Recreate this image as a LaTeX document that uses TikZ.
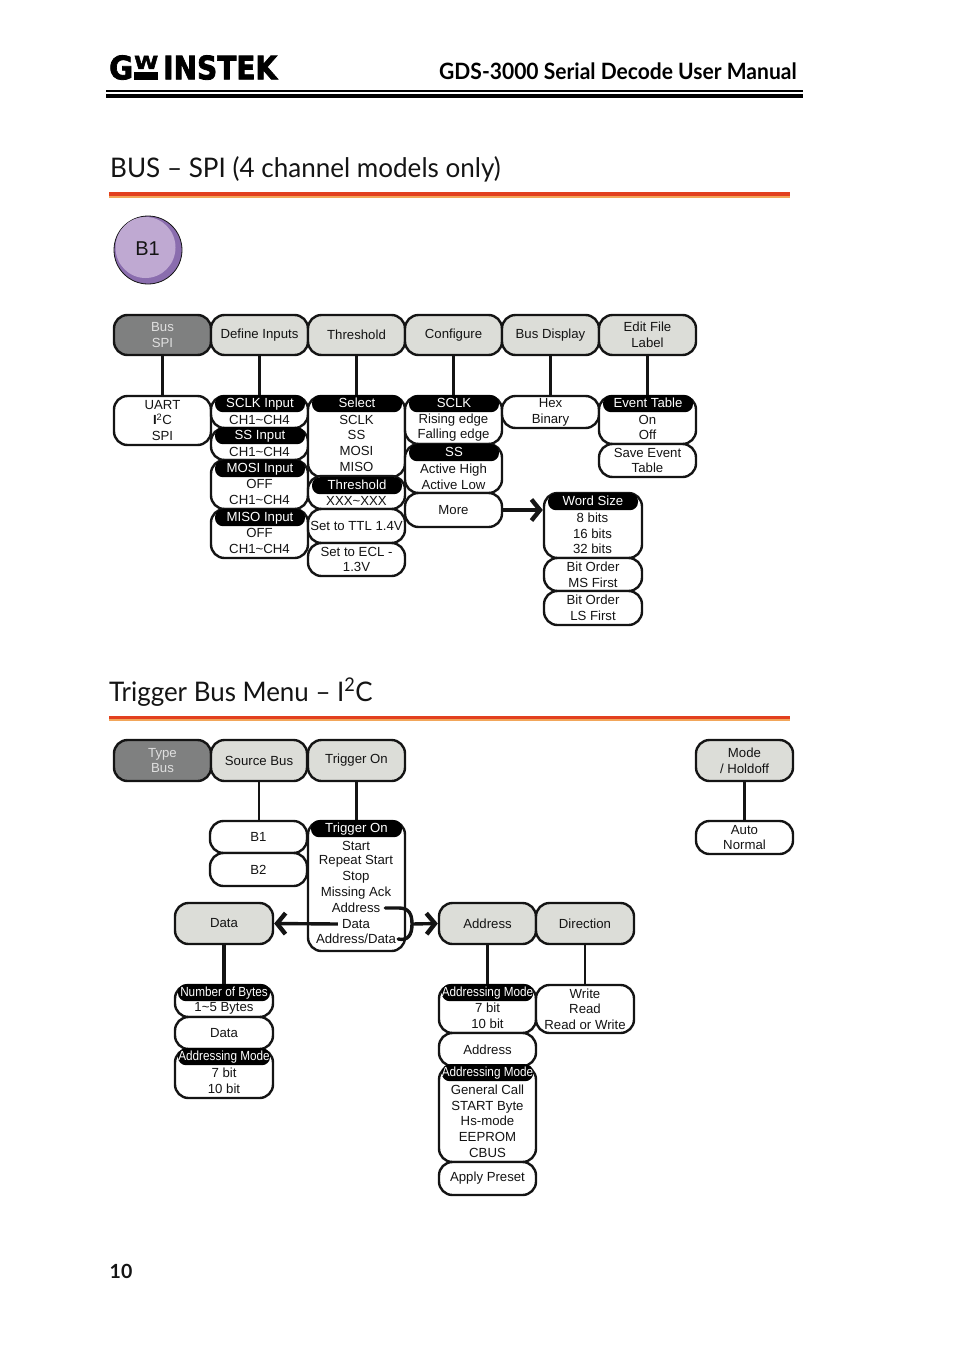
\documentclass[tikz,border=0pt]{standalone}
\usepackage{fontspec}
\setmainfont{Liberation Sans}
\newfontfamily\headfont{Lato}
\newfontfamily\logofont[BoldFeatures={FakeBold=2.5}]{DejaVu Sans}
\usetikzlibrary{arrows.meta}
\definecolor{btn}{HTML}{DCDDD8}
\definecolor{btndark}{HTML}{7F8080}
\definecolor{ink}{HTML}{141414}
\definecolor{rulered}{HTML}{E2401F}
\definecolor{ruleorange}{HTML}{F2A65A}
\definecolor{purpdark}{HTML}{8A6DAE}
\definecolor{purplight}{HTML}{BFA9D2}
\tikzset{
  x=1pt,y=-1pt,
  boxbase/.style={draw=ink,line width=2.4pt,rounded corners=13.5pt,inner sep=0pt,align=center,
    font=\fontsize{13.2}{15.7}\selectfont,text=ink},
  plainbox/.style={boxbase,fill=white},
  softkey/.style={boxbase,fill=btn},
  darkkey/.style={boxbase,fill=btndark,text=white!88!black},
  pill/.style={fill=black,rounded corners=8pt,inner sep=0pt,text=white,font=\fontsize{13.2}{15}\selectfont,minimum height=17pt,text height=11pt,text depth=3pt},
  bodytxt/.style={inner sep=0pt,align=center,text=ink,font=\fontsize{13.2}{15.7}\selectfont},
  conn/.style={draw=ink,line width=2.6pt},
  heavy/.style={draw=ink,line width=3.4pt},
  chev/.style={-{Straight Barb[length=8.5pt,width=21pt,line width=4.4pt]}},
  heading/.style={inner sep=0pt,anchor=base west,text=ink,font=\headfont\fontsize{27}{30}\selectfont},
}
\newcommand\bx[7][plainbox]{%
  \pgfmathsetmacro\wdd{#5-#3}\pgfmathsetmacro\htt{#6-#4}%
  \node[#1,minimum width=\wdd pt,minimum height=\htt pt] (#2) at ({(#3+#5)/2},{(#4+#6)/2}) {#7};}
\newcommand\hd[5]{%
  \pgfmathsetmacro\wdd{#4-#2}%
  \node[pill,minimum width=\wdd pt] (#1) at ({(#2+#4)/2},{#3+8.7}) {#5};}
\newcommand\tx[4]{\node[bodytxt] (#1) at (#2,#3) {#4};}
\newcommand\tight[1]{\scalebox{0.89}[1]{#1}}
\begin{document}
\begin{tikzpicture}
\useasboundingbox (0,0) rectangle (954,1349);
% header
\node[inner sep=0pt,anchor=south west,text=black] (logoG) at (109,80) {\resizebox{24pt}{24pt}{\logofont\bfseries G}};
\node[inner sep=0pt,anchor=south west,text=black] (logoW) at (134,69) {\resizebox{24pt}{13pt}{\logofont\bfseries W}};
\fill[black] (134,72) rectangle (158,80);
\node[inner sep=0pt,anchor=south west,text=black] (logoI) at (163,80) {\resizebox{114pt}{24pt}{\logofont\bfseries INSTEK}};
\node[inner sep=0pt,anchor=base west,text=black,font=\headfont\bfseries\fontsize{22.5}{26}\selectfont] (doc) at (439,79) {\scalebox{0.935}[1]{GDS-3000 Serial Decode User Manual}};
\fill[black] (106,90) rectangle (803,92.2);
\fill[black] (106,93.8) rectangle (803,98);
% section 1
\node[heading] (t1) at (110,177) {\scalebox{0.965}[1]{BUS – SPI (4 channel models only)}};
\fill[rulered] (109,192) rectangle (790,196);
\fill[ruleorange] (109,196) rectangle (790,198);
\fill[purpdark] (148,250) circle[radius=34];
\node[circle,draw=ink,line width=0.8pt,minimum size=68pt,inner sep=0pt] (b1ring) at (148,250) {};
\fill[purplight] (145.5,247.5) circle[x radius=30,y radius=30.5];
\node[inner sep=0pt,text=ink,font=\fontsize{20}{22}\selectfont] (b1) at (147.5,249) {B1};
% top row
\bx[darkkey]{bus}{114}{315}{211}{355}{Bus\\SPI}
\bx[softkey]{define}{211}{315}{308}{355}{Define Inputs}
\bx[softkey]{thr}{308}{315}{405}{355}{Threshold}
\bx[softkey]{conf}{405}{315}{502}{355}{Configure}
\bx[softkey]{disp}{502}{315}{599}{355}{Bus Display}
\bx[softkey]{edit}{599}{315}{696}{355}{Edit File\\Label}
% column 1
\bx{uart}{114}{396}{211}{445}{UART\\\textbf{I}\textsuperscript{2}C\\SPI}
% column 2
\bx{sclkin}{211}{396}{308}{428}{}
\hd{sclkinh}{215}{395}{305}{SCLK Input}
\tx{sclkint}{259.5}{419.5}{CH1\textasciitilde CH4}
\bx{ssin}{211}{428}{308}{460}{}
\hd{ssinh}{215}{427}{305}{SS Input}
\tx{ssint}{259.5}{451.5}{CH1\textasciitilde CH4}
\bx{mosi}{211}{460}{308}{509}{}
\hd{mosih}{215}{460}{305}{MOSI Input}
\tx{mosit}{259.5}{492}{OFF\\CH1\textasciitilde CH4}
\bx{miso}{211}{509}{308}{558}{}
\hd{misoh}{215}{509}{305}{MISO Input}
\tx{misot}{259.5}{541}{OFF\\CH1\textasciitilde CH4}
% column 3
\bx{sel}{308}{396}{405}{477}{}
\hd{selh}{312}{395}{402}{Select}
\tx{selt}{356.5}{443}{SCLK\\SS\\MOSI\\MISO}
\bx{thv}{308}{476}{405}{509}{}
\hd{thvh}{312}{477}{402}{Threshold}
\tx{thvt}{356.5}{500.5}{XXX\textasciitilde XXX}
\bx{ttl}{308}{509}{405}{543}{Set to TTL 1.4V}
\bx{ecl}{308}{543}{405}{576}{Set to ECL -\\1.3V}
% column 4
\bx{csclk}{405}{396}{502}{444}{}
\hd{csclkh}{409}{395}{499}{SCLK}
\tx{csclkt}{453.5}{427.5}{Rising edge\\Falling edge}
\bx{css}{405}{444}{502}{493}{}
\hd{cssh}{409}{444}{499}{SS}
\tx{csst}{453.5}{476.5}{Active High\\Active Low}
\bx{more}{405}{493}{502}{527}{More}
% column 5, 6
\bx{hex}{502}{396}{599}{428}{Hex\\Binary}
\bx{evt}{599}{396}{696}{444}{}
\hd{evth}{603}{395}{693}{Event Table}
\tx{evtt}{647.5}{427.5}{On\\Off}
\bx{save}{599}{444}{696}{477}{Save Event\\Table}
% word size
\bx{word}{544}{493}{642}{558}{}
\hd{wordh}{548}{493}{638}{Word Size}
\tx{wordt}{592.5}{533.5}{8 bits\\16 bits\\32 bits}
\bx{ms}{544}{558}{642}{591}{Bit Order\\MS First}
\bx{ls}{544}{591}{642}{625}{Bit Order\\LS First}
% connectors section 1
\draw[conn] (bus.south) -- (uart.north);
\draw[conn] (define.south) -- (sclkin.north);
\draw[conn] (thr.south) -- (sel.north);
\draw[conn] (conf.south) -- (csclk.north);
\draw[conn] (disp.south) -- (hex.north);
\draw[conn] (edit.south) -- (evt.north);
\draw[heavy,chev] (more.east) -- (word.west |- more.east);
% section 2
\node[heading] (t2) at (109,701) {\scalebox{0.96}[1]{Trigger Bus Menu – I\textsuperscript{2}C}};
\fill[rulered] (109,716) rectangle (790,719);
\fill[ruleorange] (109,719) rectangle (790,721);
\bx[darkkey]{type}{114}{740}{211}{781}{Type\\Bus}
\bx[softkey]{src}{211}{740}{307}{781}{Source Bus}
\bx[softkey]{trg}{308}{740}{405}{781}{Trigger On}
\bx[softkey]{mode}{696}{740}{793}{781}{Mode\\/ Holdoff}
\bx{auto}{696}{821}{793}{854}{Auto\\Normal}
\bx{bone}{210}{821}{307}{853}{B1}
\bx{btwo}{210}{853}{307}{886}{B2}
\bx{ton}{308}{821}{405}{951}{}
\hd{tonh}{311}{820}{402}{Trigger On}
\tx{tl1}{356}{846}{Start}
\tx{tl2}{356}{861}{Repeat Start}
\tx{tl3}{356}{877}{Stop}
\tx{tl4}{356}{893}{Missing Ack}
\tx{tl5}{356}{908}{Address}
\tx{tl6}{356}{924}{Data}
\tx{tl7}{356}{939}{Address/Data}
\bx[softkey]{gdata}{175}{903}{273}{944}{Data}
\bx[softkey]{gaddr}{439}{903}{536}{944}{Address}
\bx[softkey]{gdir}{536}{903}{634}{944}{Direction}
% data column
\bx{nb}{175}{985}{273}{1017}{}
\hd{nbh}{178}{984}{270}{\tight{Number of Bytes}}
\tx{nbt}{224}{1008}{1\textasciitilde 5 Bytes}
\bx{dd}{175}{1017}{273}{1049}{Data}
\bx{am1}{175}{1049}{273}{1098}{}
\hd{am1h}{178}{1048}{270}{\tight{Addressing Mode}}
\tx{am1t}{224}{1081}{7 bit\\10 bit}
% address column
\bx{am2}{439}{985}{536}{1033}{}
\hd{am2h}{442}{984}{533}{\tight{Addressing Mode}}
\tx{am2t}{487.5}{1016}{7 bit\\10 bit}
\bx{aa}{439}{1033}{536}{1066}{Address}
\bx{am3}{439}{1066}{536}{1162}{}
\hd{am3h}{442}{1064}{533}{\tight{Addressing Mode}}
\tx{am3t}{487.5}{1121}{General Call\\START Byte\\Hs-mode\\EEPROM\\CBUS}
\bx{app}{439}{1162}{536}{1195}{Apply Preset}
\bx{wr}{536}{985}{634}{1033}{Write\\Read\\Read or Write}
% connectors section 2
\draw[conn] (src.south) -- (bone.north -| src.south);
\draw[conn] (trg.south) -- (ton.north);
\draw[heavy] (mode.south) -- (auto.north);
\draw[heavy] (gdata.south) -- (nb.north);
\draw[heavy] (gaddr.south) -- (am2.north);
\draw[conn] (gdir.south) -- (wr.north);
\draw[heavy,chev] ([xshift=-4pt]tl6.west) -- (gdata.east);
\coordinate (brk) at (412,924);
\draw[heavy,line cap=round] ([xshift=5pt]tl5.east) -- (399,908) .. controls (409,908) and (412,914) .. (brk) .. controls (412,935) and (408,941) .. ([xshift=2pt]tl7.east);
\draw[heavy,chev] (brk) -- (gaddr.west);
% page number
\node[inner sep=0pt,anchor=base west,text=ink,font=\headfont\bfseries\fontsize{19.5}{24}\selectfont] (pg) at (109.5,1278) {10};
\end{tikzpicture}
\end{document}
